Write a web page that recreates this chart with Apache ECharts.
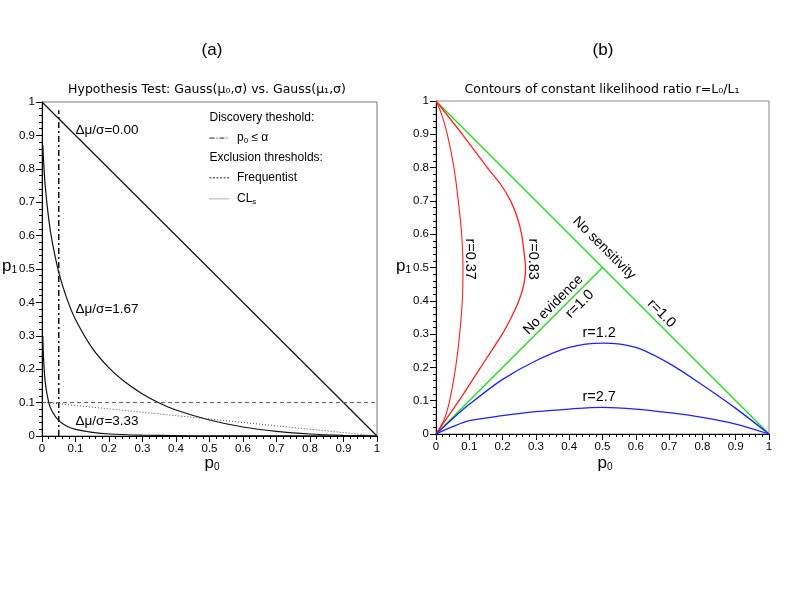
<!DOCTYPE html>
<html>
<head>
<meta charset="utf-8">
<script src="https://cdn.jsdelivr.net/npm/echarts@6/dist/echarts.min.js"></script>
<style>
  html, body { margin: 0; padding: 0; background: #fff; }
  #main { width: 789px; height: 592px; }
</style>
</head>
<body>
<div id="main"></div>
<script>
// tick labels, both panels (p0 and p1 go 0..1)
var tickValues = [0, 0.1, 0.2, 0.3, 0.4, 0.5, 0.6, 0.7, 0.8, 0.9, 1];

// panel (a): p1 vs p0 for three separations
var delta000 = [[0, 1], [1, 0]];
var delta167 = [[0.0025, 0.872], [0.005, 0.817], [0.01, 0.744], [0.02, 0.65], [0.03, 0.584],
  [0.05, 0.49], [0.075, 0.409], [0.1, 0.349], [0.15, 0.263], [0.2, 0.204], [0.25, 0.16],
  [0.3, 0.126], [0.35, 0.099], [0.4, 0.078], [0.5, 0.048], [0.6, 0.027], [0.7, 0.014],
  [0.8, 0.006], [0.9, 0.002], [1, 0]];
var delta333 = [[0.0025, 0.3], [0.005, 0.225], [0.01, 0.158], [0.02, 0.101], [0.03, 0.074],
  [0.05, 0.046], [0.075, 0.029], [0.1, 0.02], [0.15, 0.011], [0.2, 0.006], [0.3, 0.0025],
  [0.4, 0.001], [0.5, 0.0004], [1, 0]];
var discovery = [[0.05, 0], [0.05, 0.975]];
var frequentist = [[0, 0.1], [1, 0.1]];
var clsLine = [[0.015, 0.1], [1, 0]];

// panel (b): contours of constant likelihood ratio
var noSensitivity = [[0, 1], [1, 0]];
var noEvidence = [[0, 0], [0.5, 0.5]];
var r037 = [[0, 1], [0.017, 0.96], [0.034, 0.9], [0.054, 0.8], [0.067, 0.7], [0.077, 0.6],
  [0.081, 0.5], [0.079, 0.4], [0.071, 0.3], [0.059, 0.2], [0.041, 0.1], [0.024, 0.042], [0, 0]];
var r083 = [[0, 1], [0.079, 0.9], [0.154, 0.8], [0.194, 0.75], [0.224, 0.7], [0.244, 0.65],
  [0.257, 0.6], [0.264, 0.55], [0.269, 0.5], [0.264, 0.45], [0.249, 0.4], [0.226, 0.35],
  [0.199, 0.3], [0.134, 0.2], [0.069, 0.1], [0, 0]];
var r12 = [[0, 0], [0.05, 0.046], [0.1, 0.089], [0.2, 0.164], [0.3, 0.22], [0.4, 0.26],
  [0.5, 0.273], [0.6, 0.26], [0.7, 0.212], [0.8, 0.147], [0.9, 0.077], [1, 0]];
var r27 = [[0, 0], [0.05, 0.022], [0.1, 0.04], [0.2, 0.055], [0.3, 0.067], [0.4, 0.075],
  [0.5, 0.08], [0.6, 0.075], [0.7, 0.064], [0.8, 0.05], [0.9, 0.03], [1, 0]];

var FONT = 'Liberation Sans';

function makeAxis(idx) {
  return {
    type: 'value', gridIndex: idx, min: tickValues[0], max: tickValues[tickValues.length - 1],
    interval: 0.1,
    axisLine: { show: true, onZero: false, lineStyle: { color: '#000', width: 1 } },
    axisTick: { show: true, length: 6, lineStyle: { color: '#000' } },
    minorTick: { show: true, splitNumber: 5, length: 3, lineStyle: { color: '#000' } },
    splitLine: { show: false },
    axisLabel: { fontFamily: FONT, fontSize: 11.5, color: '#000', margin: 7,
      formatter: function (v) { return String(+v.toFixed(1)); } }
  };
}

function line(name, data, xi, color, type, width, smooth) {
  return {
    name: name, type: 'line', xAxisIndex: xi, yAxisIndex: xi, data: data,
    showSymbol: false, symbol: 'none', smooth: smooth || false,
    lineStyle: { color: color, width: width || 1, type: type || 'solid' },
    animation: false, silent: true
  };
}

var myChart = echarts.init(document.getElementById('main'));
var option = {
  backgroundColor: '#fff',
  animation: false,
  grid: [
    { left: 42, top: 102, width: 335, height: 334, show: true, borderColor: '#777', borderWidth: 1, backgroundColor: 'transparent' },
    { left: 436, top: 101, width: 333, height: 333, show: true, borderColor: '#888', borderWidth: 1, backgroundColor: 'transparent' }
  ],
  xAxis: [makeAxis(0), makeAxis(1)],
  yAxis: [makeAxis(0), makeAxis(1)],
  series: [
    line('Δμ/σ=0.00', delta000, 0, '#111', 'solid', 1.2),
    line('Δμ/σ=1.67', delta167, 0, '#111', 'solid', 1.2, 0.3),
    line('Δμ/σ=3.33', delta333, 0, '#111', 'solid', 1.2, 0.3),
    line('discovery', discovery, 0, '#111', [6, 3, 2, 3], 1.5),
    line('frequentist', frequentist, 0, '#555', [4, 3], 1),
    line('CLs', clsLine, 0, '#444', [1, 2], 1),
    line('No sensitivity', noSensitivity, 1, '#11dd11', 'solid', 1.2),
    line('No evidence', noEvidence, 1, '#11dd11', 'solid', 1.3),
    line('r=0.37', r037, 1, '#ff2020', 'solid', 1.1, 0.2),
    line('r=0.83', r083, 1, '#ff2020', 'solid', 1.3, 0.2),
    line('r=1.2', r12, 1, '#2020ff', 'solid', 1.3, 0.3),
    line('r=2.7', r27, 1, '#2020ff', 'solid', 1.3, 0.3)
  ]
};
myChart.setOption(option);

// annotations placed in data coordinates
function px(g, x, y) { return myChart.convertToPixel({ gridIndex: g }, [x, y]); }
function txt(p, text, size, extra) {
  var e = {
    type: 'text', x: p[0], y: p[1], silent: true,
    style: { text: text, fontFamily: FONT, fontSize: size || 13, fill: '#000',
      align: 'left', verticalAlign: 'middle' }
  };
  if (extra) {
    for (var k in extra.style || {}) e.style[k] = extra.style[k];
    if (extra.rotation !== undefined) e.rotation = extra.rotation;
  }
  return e;
}
var sub = { s: { fontFamily: FONT, fontSize: 10, padding: [9, 0, 0, 0] } };
var subSmall = { s: { fontFamily: FONT, fontSize: 8, padding: [5, 0, 0, 0] } };

var graphics = [
  txt([212, 50], '(a)', 17, { style: { align: 'center' } }),
  txt([603, 50], '(b)', 17, { style: { align: 'center' } }),
  txt([207, 90], 'Hypothesis Test: Gauss(μ₀,σ) vs. Gauss(μ₁,σ)', 12.5, { style: { align: 'center', fontFamily: 'DejaVu Sans' } }),
  txt([602, 90], 'Contours of constant likelihood ratio r=L₀/L₁', 12.5, { style: { align: 'center', fontFamily: 'DejaVu Sans' } }),
  // axis names
  { type: 'text', x: 212, y: 463, silent: true, style: { text: 'p{s|0}', fontFamily: FONT, fontSize: 17, fill: '#000', align: 'center', verticalAlign: 'middle', rich: sub } },
  { type: 'text', x: 605, y: 463, silent: true, style: { text: 'p{s|0}', fontFamily: FONT, fontSize: 17, fill: '#000', align: 'center', verticalAlign: 'middle', rich: sub } },
  { type: 'text', x: 2, y: 266, silent: true, style: { text: 'p{s|1}', fontFamily: FONT, fontSize: 17, fill: '#000', align: 'left', verticalAlign: 'middle', rich: sub } },
  { type: 'text', x: 396, y: 266, silent: true, style: { text: 'p{s|1}', fontFamily: FONT, fontSize: 17, fill: '#000', align: 'left', verticalAlign: 'middle', rich: sub } },
  // panel (a) curve labels
  txt(px(0, 0.1, 0.915), 'Δμ/σ=0.00', 13.5),
  txt(px(0, 0.1, 0.38), 'Δμ/σ=1.67', 13.5),
  txt(px(0, 0.1, 0.045), 'Δμ/σ=3.33', 13.5),
  // panel (a) legend
  txt(px(0, 0.5, 0.952), 'Discovery theshold:', 12),
  { type: 'text', x: px(0, 0.582, 0.892)[0], y: px(0, 0.582, 0.892)[1], silent: true, style: { text: 'p{s|0} ≤ α', fontFamily: FONT, fontSize: 12, fill: '#000', verticalAlign: 'middle', rich: subSmall } },
  txt(px(0, 0.5, 0.833), 'Exclusion thresholds:', 12),
  txt(px(0, 0.582, 0.773), 'Frequentist', 12),
  { type: 'text', x: px(0, 0.582, 0.71)[0], y: px(0, 0.582, 0.71)[1], silent: true, style: { text: 'CL{s|s}', fontFamily: FONT, fontSize: 12, fill: '#000', verticalAlign: 'middle', rich: subSmall } },
  { type: 'line', silent: true, shape: { x1: px(0, 0.5, 0)[0], y1: px(0, 0, 0.892)[1], x2: px(0, 0.56, 0)[0], y2: px(0, 0, 0.892)[1] }, style: { stroke: '#222', lineWidth: 1, lineDash: [5, 2, 1, 2] } },
  { type: 'line', silent: true, shape: { x1: px(0, 0.5, 0)[0], y1: px(0, 0, 0.773)[1], x2: px(0, 0.56, 0)[0], y2: px(0, 0, 0.773)[1] }, style: { stroke: '#222', lineWidth: 1, lineDash: [2, 1.5] } },
  { type: 'line', silent: true, shape: { x1: px(0, 0.5, 0)[0], y1: px(0, 0, 0.71)[1], x2: px(0, 0.56, 0)[0], y2: px(0, 0, 0.71)[1] }, style: { stroke: '#666', lineWidth: 1, lineDash: [1, 1] } },
  // panel (b) labels
  txt(px(1, 0.102, 0.525), 'r=0.37', 14.5, { rotation: -Math.PI / 2, style: { align: 'center' } }),
  txt(px(1, 0.292, 0.525), 'r=0.83', 14.5, { rotation: -Math.PI / 2, style: { align: 'center' } }),
  txt(px(1, 0.505, 0.558), 'No sensitivity', 14, { rotation: -Math.PI / 4, style: { align: 'center' } }),
  txt(px(1, 0.677, 0.362), 'r=1.0', 14.5, { rotation: -Math.PI / 4, style: { align: 'center' } }),
  txt(px(1, 0.352, 0.388), 'No evidence', 14, { rotation: Math.PI / 4, style: { align: 'center' } }),
  txt(px(1, 0.432, 0.39), 'r=1.0', 14.5, { rotation: Math.PI / 4, style: { align: 'center' } }),
  txt(px(1, 0.49, 0.302), 'r=1.2', 14.5, { style: { align: 'center' } }),
  txt(px(1, 0.49, 0.111), 'r=2.7', 14.5, { style: { align: 'center' } })
];
myChart.setOption({ graphic: graphics });
</script>
</body>
</html>
